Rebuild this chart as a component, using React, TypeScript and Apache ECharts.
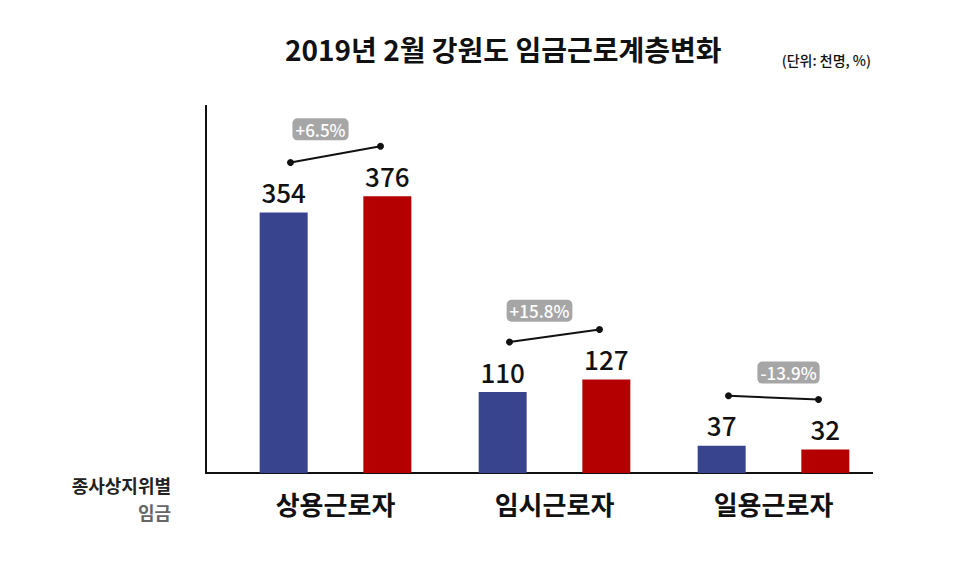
import React, { useEffect, useRef } from "react";
import * as echarts from "echarts";

const categories = ["상용근로자", "임시근로자", "일용근로자"];
const before = [354, 110, 37];
const after = [376, 127, 32];
const changeLabels = ["+6.5%", "+15.8%", "-13.9%"];

const FONT = "'Noto Sans CJK KR', 'Noto Sans', sans-serif";

export default function App() {
  const ref = useRef<HTMLDivElement>(null);
  useEffect(() => {
    document.body.style.margin = "0";
    if (!ref.current) return;
    const chart = echarts.init(ref.current, undefined, { renderer: "svg" });
    const labelCommon = {
      show: true,
      position: "top",
      distance: 8,
      fontSize: 26,
      fontFamily: FONT,
      fontWeight: 500,
      color: "#111",
    };
    chart.setOption({
      animation: false,
      backgroundColor: "#fff",
      title: {
        text: "2019년 2월 강원도 임금근로계층변화",
        left: 280,
        top: 30,
        textStyle: { fontFamily: FONT, fontSize: 28, fontWeight: "bold", color: "#111" },
      },
      grid: { left: 226, right: 77, top: 105, bottom: 107 },
      xAxis: {
        type: "category",
        data: categories,
        axisLine: { show: false },
        axisTick: { show: false },
        axisLabel: {
          fontFamily: FONT,
          fontSize: 26,
          fontWeight: "bold",
          color: "#111",
          margin: 17,
        },
      },
      yAxis: {
        type: "value",
        min: 0,
        max: 500,
        show: false,
      },
      graphic: [
        {
          type: "line",
          shape: { x1: 206, y1: 105, x2: 206, y2: 473 },
          style: { stroke: "#111", lineWidth: 2 },
        },
        {
          type: "line",
          shape: { x1: 205, y1: 473, x2: 873, y2: 473 },
          style: { stroke: "#111", lineWidth: 2 },
        },
        {
          type: "text",
          x: 871,
          y: 60,
          style: {
            text: "(단위: 천명, %)",
            align: "right",
            verticalAlign: "middle",
            font: `500 14px ${FONT}`,
            fill: "#111",
          },
        },
        {
          type: "text",
          x: 171,
          y: 485,
          style: {
            text: "종사상지위별",
            align: "right",
            verticalAlign: "middle",
            font: `bold 18px ${FONT}`,
            fill: "#222",
          },
        },
        {
          type: "text",
          x: 171,
          y: 512,
          style: {
            text: "임금",
            align: "right",
            verticalAlign: "middle",
            font: `bold 18px ${FONT}`,
            fill: "#666",
          },
        },
      ],
      series: [
        {
          type: "bar",
          data: before,
          barWidth: 48,
          barGap: "116%",
          itemStyle: { color: "#39448e" },
          label: labelCommon,
        },
        {
          type: "bar",
          data: after,
          barWidth: 48,
          itemStyle: { color: "#b40000" },
          label: labelCommon,
        },
        {
          type: "custom",
          clip: false,
          z: 10,
          encode: { x: 0, y: [1, 2] },
          data: categories.map((c, i) => [i, before[i], after[i]]),
          renderItem: (params: any, api: any) => {
            const i = api.value(0);
            const p1 = api.coord([i, api.value(1)]);
            const p2 = api.coord([i, api.value(2)]);
            const cx = p1[0];
            const a = [cx - 45, p1[1] - 50];
            const b = [cx + 45, p2[1] - 50];
            const sign = a[1] > b[1] ? -1 : 1;
            const mx = (a[0] + b[0]) / 2 + sign * 15;
            const my = (a[1] + b[1]) / 2 - 25;
            return {
              type: "group",
              children: [
                {
                  type: "line",
                  shape: { x1: a[0], y1: a[1], x2: b[0], y2: b[1] },
                  style: { stroke: "#111", lineWidth: 2 },
                },
                { type: "circle", shape: { cx: a[0], cy: a[1], r: 3.5 }, style: { fill: "#111" } },
                { type: "circle", shape: { cx: b[0], cy: b[1], r: 3.5 }, style: { fill: "#111" } },
                {
                  type: "text",
                  x: mx,
                  y: my,
                  style: {
                    text: changeLabels[params.dataIndex],
                    align: "center",
                    verticalAlign: "middle",
                    font: `500 17px ${FONT}`,
                    fill: "#fff",
                    backgroundColor: "#a6a6a6",
                    borderRadius: 5,
                    padding: [3, 3, 2, 3],
                  },
                },
              ],
            };
          },
        },
      ],
    });
    return () => chart.dispose();
  }, []);
  return <div ref={ref} style={{ width: 960, height: 580 }} />;
}
